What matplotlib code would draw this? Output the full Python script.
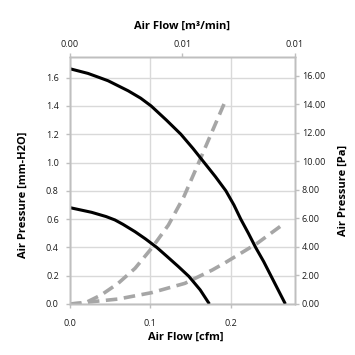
import matplotlib
matplotlib.use("Agg")
import matplotlib.pyplot as plt

# fan curves (x in cfm, y in mm-H2O)
big_fan_x = [0, 0.0225, 0.037, 0.0475, 0.0725, 0.088, 0.101, 0.12, 0.138, 0.153, 0.167,
             0.181, 0.194, 0.204, 0.2125, 0.222, 0.231, 0.241, 0.25, 0.259, 0.268]
big_fan_y = [1.663, 1.63, 1.6, 1.578, 1.507, 1.455, 1.4, 1.3, 1.2, 1.1, 1.0,
             0.9, 0.8, 0.7, 0.6, 0.5, 0.4, 0.3, 0.2, 0.1, 0.0]

small_fan_x = [0, 0.027, 0.045, 0.056, 0.066, 0.081, 0.094, 0.108, 0.121, 0.135,
               0.148, 0.162, 0.1735]
small_fan_y = [0.681, 0.648, 0.618, 0.594, 0.563, 0.511, 0.46, 0.4, 0.335, 0.264,
               0.195, 0.1, 0.0]

# system impedance curves
steep_x = [0, 0.018, 0.039, 0.06, 0.081, 0.1016, 0.1225, 0.1417, 0.158, 0.175, 0.192]
steep_y = [0, 0.005, 0.064, 0.146, 0.252, 0.394, 0.558, 0.758, 0.97, 1.194, 1.418]

shallow_x = [0, 0.06, 0.1016, 0.143, 0.177, 0.192, 0.233, 0.262]
shallow_y = [0, 0.035, 0.08, 0.146, 0.24, 0.288, 0.429, 0.55]

left_ticks = [0.0, 0.2, 0.4, 0.6, 0.8, 1.0, 1.2, 1.4, 1.6]
right_ticks = [0, 2, 4, 6, 8, 10, 12, 14, 16]
bottom_ticks = [0.0, 0.1, 0.2]
top_ticks = [0, 0.005, 0.01]
top_labels = ["0.00", "0.01", "0.01"]

plt.rcParams["font.family"] = ["Open Sans", "DejaVu Sans"]
spine_c = "#bfbfbf"
grid_c = "#d9d9d9"

fig = plt.figure(figsize=(3.55, 3.55), dpi=100)
ax = fig.add_axes([0.197, 0.1437, 0.634, 0.6953])

ax.plot(big_fan_x, big_fan_y, color="black", lw=2.2, solid_capstyle="butt",
        solid_joinstyle="round", zorder=3)
ax.plot(small_fan_x, small_fan_y, color="black", lw=2.2, solid_capstyle="butt",
        solid_joinstyle="round", zorder=3)
ax.plot(steep_x, steep_y, color="#a6a6a6", lw=2.6, dashes=(3.2, 1.8), zorder=2)
ax.plot(shallow_x, shallow_y, color="#a6a6a6", lw=2.6, dashes=(3.2, 1.8), zorder=2)

ax.set_xlim(0, 0.28)
ax.set_ylim(0, 1.745)
ax.set_xticks(bottom_ticks)
ax.set_xticklabels([f"{v:.1f}" for v in bottom_ticks])
ax.set_yticks(left_ticks)
ax.set_yticklabels([f"{v:.1f}" for v in left_ticks])
ax.grid(True, color=grid_c, lw=1.0)
ax.set_axisbelow(True)

ax2 = ax.twinx()
ax2.set_ylim(0, 17.3)
ax2.set_yticks(right_ticks)
ax2.set_yticklabels([f"{v:.2f}" for v in right_ticks])

ax3 = ax.twiny()
ax3.set_xlim(0, 0.01)
ax3.set_xticks(top_ticks)
ax3.set_xticklabels(top_labels)

for a in (ax, ax2, ax3):
    for s in a.spines.values():
        s.set_color(spine_c)
        s.set_linewidth(1.0)
    a.tick_params(colors=spine_c, labelcolor="#1a1a1a", labelsize=6.5, length=3, width=1)

ax.tick_params(axis="y", pad=5)
ax.tick_params(axis="x", pad=8)
ax2.tick_params(axis="y", pad=2)
ax3.tick_params(axis="x", pad=3)

lab = dict(fontsize=8, fontweight="bold")
ax.set_xlabel("Air Flow [cfm]", **lab)
ax.xaxis.set_label_coords(0.513, -0.113)
ax.set_ylabel("Air Pressure [mm-H2O]", **lab)
ax.yaxis.set_label_coords(-0.185, 0.443)
ax2.set_ylabel("Air Pressure [Pa]", **lab)
ax2.yaxis.set_label_coords(1.19, 0.46)
ax3.set_xlabel("Air Flow [m\u00b3/min]", labelpad=8, **lab)

fig.savefig("out.png", dpi=100)
